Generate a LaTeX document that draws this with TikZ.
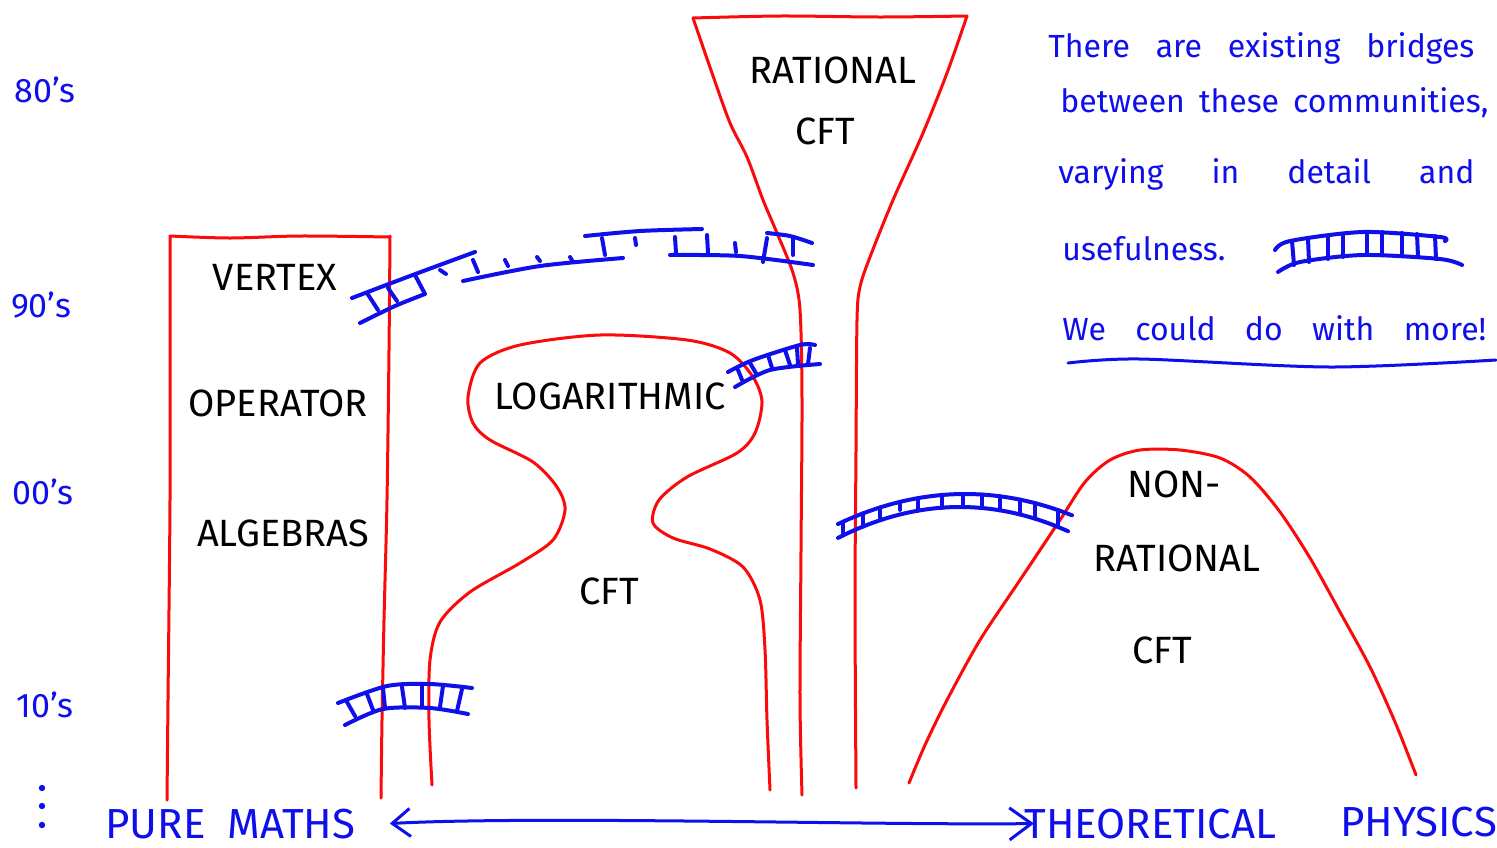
\documentclass[tikz,border=0pt]{standalone}
\usepackage{fontspec}
\setmainfont{Fira Sans}
\usetikzlibrary{arrows.meta}
\definecolor{hblue}{RGB}{15,15,235}
\definecolor{hred}{RGB}{250,10,10}
\begin{document}
\begin{tikzpicture}[x=0.5pt,y=-0.5pt,
  region/.style={draw=hred, line width=1.5pt, line cap=round, line join=round},
  bridge/.style={draw=hblue, line width=2pt, line cap=round, line join=round},
  lbl/.style={font=\fontsize{19}{23}\selectfont, inner sep=0pt, text=black},
  decade/.style={font=\fontsize{17}{20}\selectfont, text=hblue, inner sep=0pt},
  note/.style={font=\fontsize{16}{19}\selectfont, text=hblue, inner sep=0pt, anchor=base west},
  axis/.style={font=\fontsize{21}{25}\selectfont, text=hblue, inner sep=0pt, anchor=base west},
  axarrow/.style={draw=hblue, line width=1.5pt, line cap=round,
    {Straight Barb[length=9pt,width=14pt]}-{Straight Barb[length=11pt,width=16pt]}}]
\useasboundingbox[fill=white] (0,0) rectangle (1497,847);

% ---------- regions (red) ----------
% Vertex operator algebras
\draw[region] plot[smooth] coordinates {(167,800) (168,700) (170,500) (170,300) (170,236)};
\draw[region] plot[smooth] coordinates {(170,236) (230,238) (300,236) (390,237)};
\draw[region] plot[smooth] coordinates {(390,236) (389,350) (387,500) (384,620) (382,720) (381,798)};
% Logarithmic CFT
\draw[region] plot[smooth] coordinates {(432,785) (429,720) (430,660) (440,622) (470,592) (520,563) (553,540) (565,510) (557,487) (533,462) (490,440) (473,423) (468,397) (480,363) (520,345) (600,335) (687,340) (730,353) (753,377) (762,402) (755,433) (737,453) (687,477) (659,500) (653,523) (673,538) (710,549) (743,567) (760,600) (765,650) (767,720) (770,790)};
% Rational CFT
\draw[region] plot[smooth] coordinates {(693,18) (780,16) (880,17) (967,16)};
\draw[region] plot[smooth] coordinates {(693,18) (712,73) (730,123) (747,157) (763,200) (777,233) (793,273) (800,310) (802,400) (801,550) (800,700) (802,795)};
\draw[region] plot[smooth] coordinates {(967,16) (947,73) (923,133) (893,200) (870,257) (860,287) (857,320) (856,450) (855,600) (856,788)};
% Non-rational CFT
\draw[region] plot[smooth] coordinates {(909,783) (925,745) (947,700) (980,640) (1020,580) (1060,520) (1085,482) (1110,460) (1140,450) (1180,450) (1220,458) (1250,477) (1280,512) (1310,558) (1340,612) (1370,667) (1395,722) (1416,775)};

% ---------- bridges (blue) ----------
% VOA -- Rational (top, incomplete)
\draw[bridge] plot[smooth] coordinates {(352,298) (410,276) (475,252)};
\draw[bridge] plot[smooth] coordinates {(585,236) (640,231) (702,229)};
\draw[bridge] plot[smooth] coordinates {(767,233) (790,236) (812,243)};
\draw[bridge] plot[smooth] coordinates {(360,323) (395,306) (425,294)} -- (415,275);
\draw[bridge] plot[smooth] coordinates {(463,281) (540,266) (623,258)};
\draw[bridge] plot[smooth] coordinates {(670,255) (740,256) (813,265)};
\foreach \a/\b/\c/\d in {367/293/378/310, 388/288/397/301, 440/270/446/274, 473/260/478/272,
  505/260/508/266, 537/257/540/261, 570/257/573/262, 602/238/605/255, 635/238/636/245,
  675/237/676/253, 707/235/708/253, 735/243/736/252, 767/238/763/262, 793/238/793/255}
  \draw[bridge] (\a,\b) -- (\c,\d);
% Logarithmic -- Rational
\draw[bridge] plot[smooth] coordinates {(728,372) (753,360) (800,345) (815,345)};
\draw[bridge] plot[smooth] coordinates {(735,387) (770,370) (820,364)};
\foreach \a/\b/\c/\d in {738/370/742/380, 750/363/757/375, 768/355/772/368, 785/350/790/365,
  797/348/798/364, 810/348/808/364}
  \draw[bridge] (\a,\b) -- (\c,\d);
% Rational -- Non-rational
\draw[bridge] plot[smooth, domain=838:1072, samples=24] (\x,{494+0.00186*(\x-965)^2});
\draw[bridge] plot[smooth, domain=838:1068, samples=24] (\x,{507+0.00208*(\x-960)^2});
\foreach \r in {843,863,880,918,942,963,982,1000,1020,1035,1058}
  \draw[bridge] (\r,{494+0.00186*(\r-965)^2}) -- (\r,{507+0.00208*(\r-960)^2});
\draw[bridge] (900,{494+0.00186*(900-965)^2}) -- (900,{502+0.00186*(900-965)^2});
% VOA -- Logarithmic (bottom)
\draw[bridge] plot[smooth] coordinates {(338,703) (387,686) (430,684) (472,688)};
\draw[bridge] plot[smooth] coordinates {(345,725) (383,709) (430,708) (468,714)};
\foreach \a/\b/\c/\d in {347/702/355/716, 367/694/373/710, 383/688/385/708, 402/687/405/708,
  422/686/422/706, 443/686/440/707, 462/689/457/711}
  \draw[bridge] (\a,\b) -- (\c,\d);
% legend bridge
\draw[bridge] plot[smooth] coordinates {(1275,250) (1290,241) (1363,232) (1440,237) (1445,241)};
\draw[bridge] plot[smooth] coordinates {(1278,272) (1300,262) (1363,255) (1440,259) (1462,265)};
\foreach \a/\b/\c/\d in {1292/241/1294/265, 1308/239/1309/262, 1328/236/1328/259, 1343/234/1343/257,
  1367/232/1367/255, 1382/232/1382/255, 1402/233/1402/256, 1417/234/1418/257, 1435/236/1436/259}
  \draw[bridge] (\a,\b) -- (\c,\d);

% ---------- labels ----------
\node[lbl] (vx) at (275,277) {VERTEX};
\node[lbl] (op) at (278,403) {OPERATOR};
\node[lbl] (al) at (283,533) {ALGEBRAS};
\node[lbl] (rat) at (833,70) {RATIONAL};
\node[lbl] (rcft) at (825,131) {CFT};
\node[lbl] (log) at (610,396) {LOGARITHMIC};
\node[lbl] (lcft) at (609,591) {CFT};
\node[lbl] (non) at (1174,484) {NON-};
\node[lbl] (nrat) at (1177,558) {RATIONAL};
\node[lbl] (ncft) at (1162,650) {CFT};

\node[decade] (d80) at (45,90) {80's};
\node[decade] (d90) at (41,305) {90's};
\node[decade] (d00) at (43,492) {00's};
\node[decade] (d10) at (45,705) {10's};
\foreach \y in {788,806,825} \fill[hblue] (42,\y) circle (1.6pt);

\node[note] (n1) at (1048,57) {\makebox[213pt][s]{There are existing bridges}};
\node[note] (n2) at (1060,112) {\makebox[214pt][s]{between these communities,}};
\node[note] (n3) at (1058,183) {\makebox[208pt][s]{varying in detail and}};
\node[note] (n4) at (1062,260) {usefulness.};
\node[note] (n5) at (1062,340) {\makebox[212pt][s]{We could do with more!}};
\draw[hblue, line width=1.5pt, line cap=round] plot[smooth] coordinates {(1068,363) (1140,359) (1330,367) (1496,360)};

\node[axis] (pm) at (105,838) {\makebox[125pt][s]{PURE MATHS}};
\node[axis] (tp) at (1024,838) {THEORETICAL};
\node[axis] (ph) at (1340,836) {PHYSICS};
\draw[axarrow] ([xshift=17pt]pm.east) .. controls +(150,-8) and +(-150,2) .. ([xshift=5pt]tp.west);
\end{tikzpicture}
\end{document}
